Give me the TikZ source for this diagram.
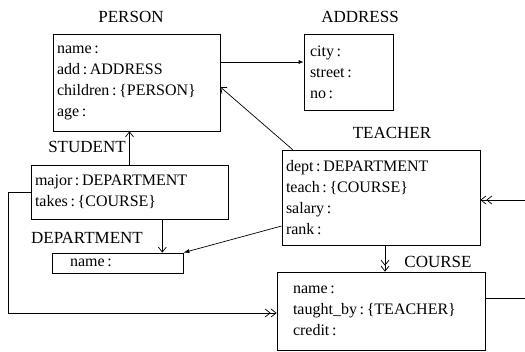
\documentclass[tikz,border=0pt]{standalone}
\usepackage{fontspec}
\setmainfont{Liberation Serif}
\usetikzlibrary{arrows.meta}

\tikzset{
  classbox/.style={draw, line width=0.7pt, align=left, inner xsep=4pt, inner ysep=0pt,
    font=\fontsize{16}{21}\selectfont},
  classname/.style={font=\fontsize{17}{20}\selectfont},
  link/.style={line width=0.7pt, >={Straight Barb[length=5pt,width=8pt]}},
}

\begin{document}
\begin{tikzpicture}[x=1pt, y=-1pt]
\useasboundingbox (0,0) rectangle (525,352);

% boxes
\node[classbox, text width=159pt, minimum height=97pt] (person) at (136.5,82.5)
  {name\,:\\add\,:\,ADDRESS\\children\,:\,\{PERSON\}\\age\,:};
\node[classbox, inner xsep=6pt, text width=77pt, minimum height=76pt] (address) at (348.5,72)
  {city\,:\\street\,:\\no\,:};
\node[classbox, text width=189pt, minimum height=54pt] (student) at (129.5,192)
  {major\,:\,DEPARTMENT\\takes\,:\,\{COURSE\}};
\node[classbox, text width=190pt, minimum height=95pt] (teacher) at (381,197.5)
  {dept\,:\,DEPARTMENT\\teach\,:\,\{COURSE\}\\salary\,:\\rank\,:};
\node[classbox, inner xsep=18pt, text width=95pt, minimum height=20pt] (department) at (117.5,263)
  {name\,:};
\node[classbox, inner xsep=16pt, text width=176pt, minimum height=78pt] (course) at (381,311)
  {name\,:\\taught\_by\,:\,\{TEACHER\}\\credit\,:};

% names
\node[classname] (personname) at (131,17) {PERSON};
\node[classname] (addressname) at (360,17) {ADDRESS};
\node[classname] (studentname) at (87,147) {STUDENT};
\node[classname] (teachername) at (392,133) {TEACHER};
\node[classname] (departmentname) at (87,238) {DEPARTMENT};
\node[classname] (coursename) at (438,262) {COURSE};

% free ends
\coordinate (dtop) at ([xshift=-21pt]department.north east);
\coordinate (loop) at (8,313);
\coordinate (rtop) at (525,200); % to TEACHER
\coordinate (rbot) at (525,298); % from COURSE

\draw[link, -{Latex[length=5pt,width=4pt]}] ([yshift=20.5pt]person.east) -- ([yshift=20.5pt]person.east -| address.west);
\draw[link, ->] (student.north) -- (student.north |- person.south);
\draw[link, ->] ([xshift=11pt]teacher.north west) -- ([yshift=-4.5pt]person.east);
\draw[link, ->] (dtop |- student.south) -- (dtop);
\draw[link, -{Latex[length=6pt,width=4pt]}] ([yshift=-28.5pt]teacher.west) -- (department.north east);
\draw[link, ->>] ([xshift=4pt]teacher.south) -- ([xshift=4pt]course.north);
\draw[link, ->>] (student.west) -| (loop) -- (loop -| course.west);
\draw[link, ->>] (rtop) -- (rtop -| teacher.east);
\draw[link] (course.east |- rbot) -- (rbot);
\end{tikzpicture}
\end{document}
